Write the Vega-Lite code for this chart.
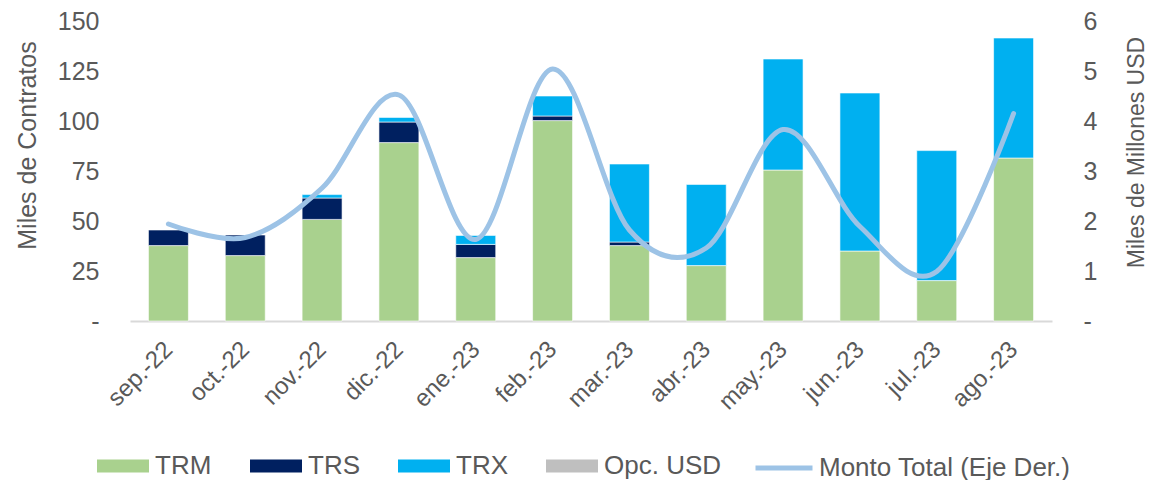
{
  "$schema": "https://vega.github.io/schema/vega-lite/v6.json",
  "width": 922,
  "height": 300,
  "autosize": {"type": "none"},
  "padding": {"left": 130, "top": 21, "right": 98, "bottom": 159},
  "background": "white",
  "config": {
    "view": {"stroke": null},
    "font": "Liberation Sans",
    "axis": {"labelFont": "Liberation Sans", "titleFont": "Liberation Sans", "labelColor": "#595959", "titleColor": "#595959", "titleFontWeight": "normal", "grid": false, "ticks": false, "tickSize": 0},
    "legend": {"labelFont": "Liberation Sans", "labelColor": "#595959", "padding": 0, "offset": 0, "labelLimit": 0}
  },
  "datasets": {
    "barras": [
      {"mes": "sep.-22", "serie": "TRM", "valor": 37.7},
      {"mes": "sep.-22", "serie": "TRS", "valor": 7.8},
      {"mes": "oct.-22", "serie": "TRM", "valor": 32.7},
      {"mes": "oct.-22", "serie": "TRS", "valor": 10.3},
      {"mes": "nov.-22", "serie": "TRM", "valor": 50.8},
      {"mes": "nov.-22", "serie": "TRS", "valor": 10.7},
      {"mes": "nov.-22", "serie": "TRX", "valor": 1.7},
      {"mes": "dic.-22", "serie": "TRM", "valor": 89.2},
      {"mes": "dic.-22", "serie": "TRS", "valor": 10.3},
      {"mes": "dic.-22", "serie": "TRX", "valor": 2.3},
      {"mes": "ene.-23", "serie": "TRM", "valor": 31.7},
      {"mes": "ene.-23", "serie": "TRS", "valor": 6.6},
      {"mes": "ene.-23", "serie": "TRX", "valor": 4.5},
      {"mes": "feb.-23", "serie": "TRM", "valor": 100.2},
      {"mes": "feb.-23", "serie": "TRS", "valor": 2.3},
      {"mes": "feb.-23", "serie": "TRX", "valor": 10.0},
      {"mes": "mar.-23", "serie": "TRM", "valor": 37.7},
      {"mes": "mar.-23", "serie": "TRS", "valor": 1.8},
      {"mes": "mar.-23", "serie": "TRX", "valor": 39.0},
      {"mes": "abr.-23", "serie": "TRM", "valor": 27.7},
      {"mes": "abr.-23", "serie": "TRX", "valor": 40.6},
      {"mes": "may.-23", "serie": "TRM", "valor": 75.5},
      {"mes": "may.-23", "serie": "TRX", "valor": 55.5},
      {"mes": "jun.-23", "serie": "TRM", "valor": 35.0},
      {"mes": "jun.-23", "serie": "TRX", "valor": 79.0},
      {"mes": "jul.-23", "serie": "TRM", "valor": 20.2},
      {"mes": "jul.-23", "serie": "TRX", "valor": 65.0},
      {"mes": "ago.-23", "serie": "TRM", "valor": 81.5},
      {"mes": "ago.-23", "serie": "TRX", "valor": 60.0}
    ],
    "monto": [
      {"mes": "sep.-22", "serie": "Monto Total (Eje Der.)", "monto": 1.94},
      {"mes": "oct.-22", "serie": "Monto Total (Eje Der.)", "monto": 1.67},
      {"mes": "nov.-22", "serie": "Monto Total (Eje Der.)", "monto": 2.66},
      {"mes": "dic.-22", "serie": "Monto Total (Eje Der.)", "monto": 4.52},
      {"mes": "ene.-23", "serie": "Monto Total (Eje Der.)", "monto": 1.63},
      {"mes": "feb.-23", "serie": "Monto Total (Eje Der.)", "monto": 5.04},
      {"mes": "mar.-23", "serie": "Monto Total (Eje Der.)", "monto": 1.82},
      {"mes": "abr.-23", "serie": "Monto Total (Eje Der.)", "monto": 1.46},
      {"mes": "may.-23", "serie": "Monto Total (Eje Der.)", "monto": 3.83},
      {"mes": "jun.-23", "serie": "Monto Total (Eje Der.)", "monto": 1.89},
      {"mes": "jul.-23", "serie": "Monto Total (Eje Der.)", "monto": 0.99},
      {"mes": "ago.-23", "serie": "Monto Total (Eje Der.)", "monto": 4.15}
    ]
  },
  "layer": [
    {
      "data": {"name": "barras"},
      "mark": {"type": "bar", "stroke": "white", "strokeWidth": 0.6},
      "encoding": {
        "x": {
          "field": "mes", "type": "nominal",
          "scale": {"domain": ["sep.-22","oct.-22","nov.-22","dic.-22","ene.-23","feb.-23","mar.-23","abr.-23","may.-23","jun.-23","jul.-23","ago.-23"], "paddingInner": 0.48, "paddingOuter": 0.24},
          "axis": {"title": null, "labelAngle": -45, "labelFontSize": 24, "labelPadding": 16, "labelOffset": -8, "domainColor": "#D9D9D9", "domainWidth": 2}
        },
        "y": {
          "field": "valor", "type": "quantitative", "aggregate": "sum", "stack": "zero",
          "scale": {"domain": [0, 150], "nice": false},
          "axis": {"orient": "left", "values": [0,25,50,75,100,125,150], "labelExpr": "datum.value === 0 ? '-' : datum.label", "labelFontSize": 25, "labelPadding": 31, "domain": false, "title": "Miles de Contratos", "titleFontSize": 25, "titleAngle": 270, "titleX": -95, "titleY": 124, "titleBaseline": "alphabetic", "titleAlign": "center"}
        },
        "order": {"field": "serie", "sort": "ascending"},
        "fill": {
          "field": "serie", "type": "nominal",
          "scale": {"domain": ["TRM","TRS","TRX","Opc. USD"], "range": ["#A9D18E","#002060","#00B0F0","#BFBFBF"]},
          "legend": {"title": null, "orient": "none", "direction": "horizontal", "legendX": -33, "legendY": 419, "symbolType": "M-1,-0.25H1V0.25H-1Z", "symbolSize": 2704, "symbolStrokeWidth": 0, "symbolOpacity": 1, "labelFontSize": 26, "labelOffset": 6, "columnPadding": 38}
        }
      }
    },
    {
      "data": {"name": "monto"},
      "mark": {"type": "line", "interpolate": "cardinal", "strokeWidth": 5, "strokeCap": "round"},
      "encoding": {
        "x": {"field": "mes", "type": "nominal"},
        "y": {
          "field": "monto", "type": "quantitative",
          "scale": {"domain": [0, 6], "nice": false},
          "axis": {"orient": "right", "values": [0,1,2,3,4,5,6], "labelExpr": "datum.value === 0 ? '-' : datum.label", "labelFontSize": 25, "labelPadding": 31, "domain": false, "title": "Miles de Millones USD", "titleFontSize": 23, "titleAngle": 270, "titleX": 91, "titleY": 131, "titleBaseline": "alphabetic", "titleAlign": "center"}
        },
        "stroke": {
          "field": "serie", "type": "nominal",
          "scale": {"domain": ["Monto Total (Eje Der.)"], "range": ["#9DC3E6"]},
          "legend": {"title": null, "orient": "none", "direction": "horizontal", "legendX": 623, "legendY": 416, "symbolType": "stroke", "symbolSize": 3249, "symbolStrokeWidth": 5, "labelFontSize": 26, "labelOffset": 4, "labelLimit": 0}
        }
      }
    }
  ],
  "resolve": {"scale": {"y": "independent"}}
}
